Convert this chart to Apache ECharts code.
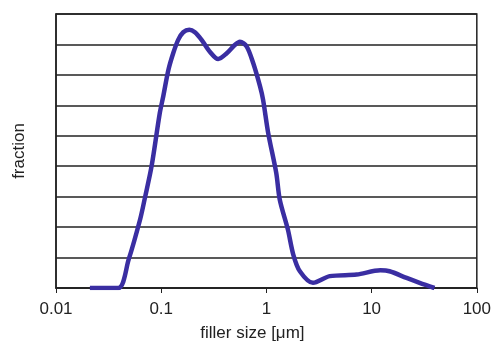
<!DOCTYPE html>
<html>
<head>
<meta charset="utf-8">
<script src="https://cdn.jsdelivr.net/npm/echarts@6/dist/echarts.min.js"></script>
<style>
	html, body { margin: 0; padding: 0; background: #fff; }
	#chart { width: 494px; height: 347px; }
</style>
</head>
<body>
<div id="chart"></div>
<script>
	// particle size (um) and fraction (grid units)
	var sizes = [0.021, 0.039, 0.049, 0.063, 0.07, 0.081, 0.097, 0.1045, 0.117, 0.13, 0.145, 0.162, 0.185, 0.209, 0.242, 0.29, 0.348, 0.42, 0.5, 0.56, 0.65, 0.75, 0.87, 0.93, 1.04, 1.24, 1.34, 1.6, 1.8, 2.08, 2.77, 4.0, 7.2, 12.1, 14.8, 21.5, 28.6, 39.6];
	var fraction = [0, 0, 0.93, 2.25, 2.96, 4.0, 5.75, 6.29, 7.16, 7.71, 8.15, 8.4, 8.48, 8.4, 8.15, 7.76, 7.52, 7.71, 7.98, 8.09, 7.93, 7.38, 6.62, 6.18, 5.09, 3.78, 2.9, 1.92, 1.1, 0.55, 0.17, 0.39, 0.44, 0.58, 0.55, 0.33, 0.17, 0];
	var xTicks = [0.01, 0.1, 1, 10, 100];

	var data = [];
	for (var i = 0; i < sizes.length; i++) {
		data.push([sizes[i], fraction[i]]);
	}

	var myChart = echarts.init(document.getElementById('chart'));
	var option = {
		animation: false,
		grid: {
			left: 56, right: 17, top: 14, bottom: 58,
			show: true, borderColor: '#222', borderWidth: 1.5
		},
		xAxis: {
			type: 'log',
			logBase: 10,
			min: xTicks[0],
			max: xTicks[xTicks.length - 1],
			name: 'filler size [μm]',
			nameLocation: 'middle',
			nameGap: 37,
			nameTextStyle: { fontFamily: 'Liberation Sans', fontSize: 17, color: '#222', padding: [0, 28, 0, 0] },
			axisLine: { lineStyle: { color: '#222', width: 1.5 } },
			axisTick: { show: true, length: 5, inside: false, lineStyle: { color: '#222' } },
			minorTick: { show: false },
			splitLine: { show: false },
			axisLabel: {
				fontFamily: 'Liberation Sans', fontSize: 17, color: '#222', margin: 13,
				formatter: function(v) { return String(+v.toPrecision(3)); }
			}
		},
		yAxis: {
			type: 'value',
			min: 0, max: 9, interval: 1,
			name: 'fraction',
			nameLocation: 'middle',
			nameGap: 28,
			nameTextStyle: { fontFamily: 'Liberation Sans', fontSize: 17, color: '#222' },
			axisLine: { show: true, lineStyle: { color: '#222', width: 1.5 } },
			axisTick: { show: false },
			axisLabel: { show: false },
			splitLine: { show: true, lineStyle: { color: '#222', width: 1.5 } }
		},
		series: [{
			type: 'line',
			data: data,
			smooth: 0.3,
			showSymbol: false,
			lineStyle: { color: '#3a2ea2', width: 4.5 }
		}]
	};
	myChart.setOption(option);
</script>
</body>
</html>
